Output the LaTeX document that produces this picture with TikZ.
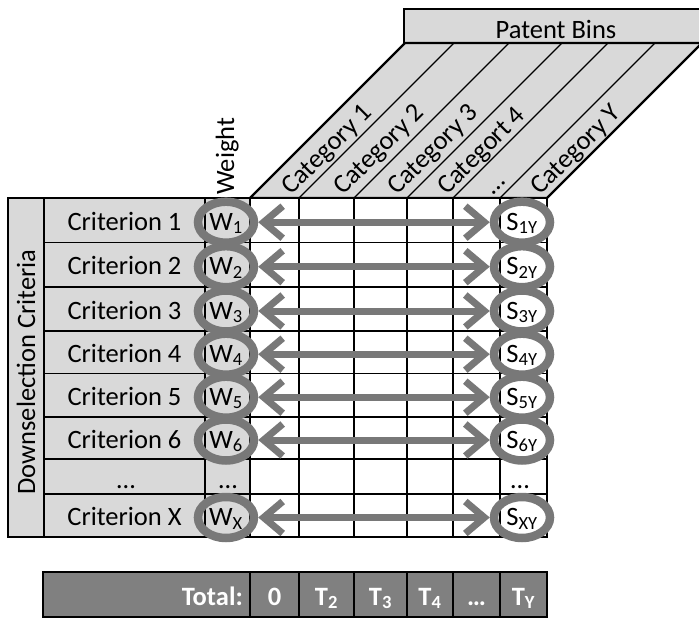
\documentclass[tikz,border=0pt]{standalone}
\usepackage{fontspec}
\setmainfont{Carlito}
\usetikzlibrary{arrows.meta,shapes.geometric}

\definecolor{cellgray}{gray}{0.85}
\definecolor{markgray}{gray}{0.47}
\definecolor{totalgray}{gray}{0.5}

\begin{document}
\begin{tikzpicture}[x=1pt, y=-1pt, >={Straight Barb[length=19pt,width=32pt]},
  every node/.style={font=\fontsize{26.5}{31}\selectfont, inner sep=0pt},
  rule/.style={draw=black, line width=1.6pt},
  ring/.style={ellipse, draw=markgray, line width=8.5pt,
    minimum width=56pt, minimum height=41pt},
  link/.style={<->, draw=markgray, line width=7pt, line cap=round},
  total/.style={text=white, font=\fontsize{26.5}{31}\selectfont\bfseries}]
  \useasboundingbox (0,0) rectangle (699,618);
  \clip (0,0) rectangle (699,618);

  % slanted header with the patent bins
  \draw[fill=cellgray, line width=1.8pt] (404,9) rectangle (712,43);
  \node (bins) at (556,29) {Patent Bins};
  \draw[fill=cellgray, line width=2.4pt] (250,198) -- (405,43) -- (702,43) -- (547,198) -- cycle;
  \foreach \x in {299,354,407,453,500}
    \draw[line width=1.4pt] (\x,198) -- ++(155,-155);
  \foreach \x/\name [count=\i] in {274.5/Category 1, 326.5/Category 2,
      380.5/Category 3, 430/Categort 4, 476.5/\dots, 523.5/Category Y}
    \node[rotate=45, anchor=base west] (cat\i) at (\x+17,196) {\name};

  % criteria table and score grid
  \fill[cellgray] (8,198) rectangle (250,537);
  \fill[white] (250,198) rectangle (547,537);
  \foreach \y in {242.5,287,331,373.5,417,459,494}
    \draw[rule] (44,\y) -- (547,\y);
  \foreach \x in {44,205,250,299,354,407,453,500}
    \draw[rule] (\x,198) -- (\x,537);
  \draw[rule, line width=2.2pt] (8,198) rectangle (547,537);
  \node[rotate=90] (crit) at (26,372) {Downselection Criteria};
  \node[rotate=90, anchor=base west] (weight) at (234,195) {Weight};

  % one row per criterion: weight, link, score
  \foreach \y/\r [count=\i] in {220.2/1, 264.7/2, 309/3, 352.2/4, 395.2/5,
      438/6, 515.5/X} {
    \node[anchor=base] (c\i) at (124.5,\y+10) {Criterion \r};
    \node[ring] (w\i) at (226,\y+2) {};
    \node[anchor=base] (wt\i) at (226,\y+10) {W\textsubscript{\r}};
    \node[ring] (s\i) at (522,\y+2) {};
    \node[anchor=base] (st\i) at (522,\y+10) {S\textsubscript{\r Y}};
    \draw[link] (w\i) -- (s\i);
  }
  \node[anchor=base] (cdots) at (126,488) {\dots};
  \node[anchor=base] (wdots) at (228,488) {\dots};
  \node[anchor=base] (sdots) at (520,488) {\dots};

  % totals bar
  \draw[rule, fill=totalgray] (43,572) rectangle (547,617);
  \foreach \x in {250,299,354,407,453,500}
    \draw[rule] (\x,572) -- (\x,617);
  \node[total, anchor=base east] (tot) at (243,605) {Total:};
  \node[total, anchor=base] (t1) at (274.5,605) {0};
  \node[total, anchor=base] (t2) at (326.5,605) {T\textsubscript{2}};
  \node[total, anchor=base] (t3) at (380.5,605) {T\textsubscript{3}};
  \node[total, anchor=base] (t4) at (430,605) {T\textsubscript{4}};
  \node[total, anchor=base] (t5) at (476.5,605) {\dots};
  \node[total, anchor=base] (ty) at (523.5,605) {T\textsubscript{Y}};
\end{tikzpicture}
\end{document}
